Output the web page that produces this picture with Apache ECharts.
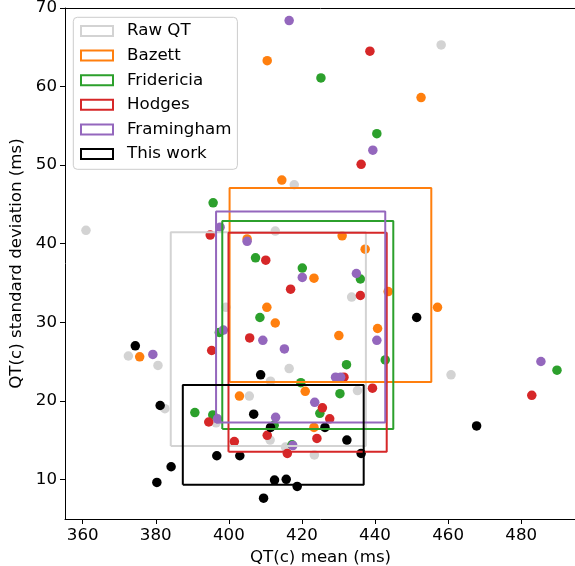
<!DOCTYPE html>
<html>
<head>
<meta charset="utf-8">
<script src="https://cdn.jsdelivr.net/npm/echarts@6/dist/echarts.min.js"></script>
<style>
  html, body { margin: 0; padding: 0; background: #fff; overflow: hidden; }
  #chart { width: 590px; height: 566px; }
</style>
</head>
<body>
<div id="chart"></div>
<script>
// ---------- data ----------
const groups = ['Raw QT', 'Bazett', 'Fridericia', 'Hodges', 'Framingham', 'This work'];

const rawQT = [[360.9,41.7],[458.1,65.3],[417.9,47.5],[412.7,41.6],[433.6,33.2],[399.2,31.9],[372.5,25.7],[380.6,24.5],[382.5,19.0],[405.6,20.6],[416.5,24.1],[411.4,22.5],[396.5,17.2],[411.3,15.0],[415.5,14.1],[423.4,13.1],[435.2,21.3],[460.8,23.3]];
const bazett = [[410.5,63.3],[452.6,58.6],[414.5,48.1],[431.0,41.0],[437.3,39.3],[423.3,35.6],[443.6,33.9],[410.4,31.9],[412.7,29.9],[457.1,31.9],[430.1,28.3],[440.7,29.2],[375.6,25.6],[402.9,20.6],[420.9,21.2],[423.3,16.6],[405.0,40.6]];
const fridericia = [[425.2,61.1],[440.5,54.0],[395.7,45.2],[407.3,38.2],[420.1,36.9],[408.5,30.6],[436.0,35.5],[397.4,28.7],[390.7,18.5],[395.6,18.2],[412.4,16.9],[417.3,14.4],[419.7,22.3],[432.2,24.6],[430.4,20.9],[424.9,18.4],[442.8,25.2],[489.8,23.9]];
const hodges = [[438.6,64.5],[436.2,50.1],[394.9,41.1],[410.1,37.9],[416.9,34.2],[436.0,33.4],[405.7,28.0],[395.3,26.4],[394.5,17.3],[401.5,14.8],[410.5,15.6],[416.0,13.3],[425.6,19.1],[427.6,17.7],[424.1,15.2],[439.3,21.6],[482.9,20.7],[431.5,23.0]];
const framingham = [[416.5,68.4],[439.4,51.9],[397.6,42.1],[405.0,40.3],[420.1,35.7],[434.9,36.2],[398.5,29.0],[409.3,27.7],[415.2,26.6],[379.2,25.9],[396.9,17.7],[412.8,17.9],[417.5,14.3],[429.2,23.0],[430.6,23.0],[423.5,19.8],[440.5,27.7],[485.4,25.0]];
const thisWork = [[374.4,27.0],[381.2,19.4],[384.2,11.6],[380.3,9.6],[396.7,13.0],[403.0,13.0],[408.7,23.3],[406.8,18.3],[411.4,16.6],[412.5,9.9],[415.7,10.0],[418.7,9.1],[409.5,7.6],[426.3,16.6],[432.3,15.0],[436.2,13.3],[451.4,30.6],[467.8,16.8]];

// mean +/- SD boxes per group (same order as groups)
const boxLeft   = [384.1, 400.2, 398.2, 399.9, 396.5, 387.4];
const boxRight  = [437.5, 455.4, 445.0, 443.2, 442.8, 436.9];
const boxBottom = [14.24, 22.4, 16.4, 13.5, 17.25, 9.3];
const boxTop    = [41.46, 47.1, 42.9, 41.4, 44.1, 22.0];

const xTicks = [360, 380, 400, 420, 440, 460, 480];
const yTicks = [10, 20, 30, 40, 50, 60, 70];
const xRange = [355.16, 495.0];
const yRange = [4.95, 70];

// ---------- style ----------
const colors = ['#d3d3d3', '#ff7f0e', '#2ca02c', '#d62728', '#9467bd', '#000000'];
const pointSets = [rawQT, bazett, fridericia, hodges, framingham, thisWork];
const FONT = 'DejaVu Sans';
const FS = 16.67;

const series = [];
groups.forEach((g, i) => {
  series.push({
    name: g, type: 'scatter', xAxisIndex: 0, yAxisIndex: 0,
    data: pointSets[i], symbolSize: 9.5, z: 2,
    itemStyle: { color: colors[i], opacity: 1 },
    emphasis: { disabled: true }
  });
});
groups.forEach((g, i) => {
  const rect = [
    [boxLeft[i], boxBottom[i]], [boxRight[i], boxBottom[i]],
    [boxRight[i], boxTop[i]], [boxLeft[i], boxTop[i]], [boxLeft[i], boxBottom[i]]
  ];
  series.push({
    name: g, type: 'line', xAxisIndex: 0, yAxisIndex: 0,
    data: rect, showSymbol: false, symbol: 'none', z: 3 + i * 0.01,
    lineStyle: { color: colors[i], width: 2 },
    itemStyle: { color: colors[i] },
    emphasis: { disabled: true }, silent: true
  });
});

const chart = echarts.init(document.getElementById('chart'), null, { renderer: 'canvas' });
chart.setOption({
  animation: false,
  backgroundColor: '#fff',
  textStyle: { fontFamily: FONT },
  grid: { left: 65, top: 8, right: 14, bottom: 47, containLabel: false, outerBoundsMode: 'none' },
  legend: {
    orient: 'vertical', left: 73.3, top: 17.3,
    padding: [5.2, 6.0, 6.8, 6.7],
    backgroundColor: 'rgba(255,255,255,0.8)', borderColor: '#cccccc', borderWidth: 1, borderRadius: 4,
    itemWidth: 32, itemHeight: 10, itemGap: 7.6,
    selectedMode: false,
    textStyle: { fontFamily: FONT, fontSize: FS, color: '#000', lineHeight: 16.7, padding: [0, 0, 0, 9.0] },
    data: groups.map((g, i) => ({
      name: g, icon: 'rect',
      itemStyle: { color: 'rgba(0,0,0,0)', borderColor: colors[i], borderWidth: 2 }
    }))
  },
  xAxis: [{
    type: 'value', min: xRange[0], max: xRange[1], position: 'bottom',
    name: 'QT(c) mean (ms)', nameLocation: 'middle', nameGap: 26,
    nameTextStyle: { fontFamily: FONT, fontSize: FS, color: '#000' },
    axisLine: { show: true, lineStyle: { color: '#000', width: 1 } },
    axisTick: { show: true, inside: false, length: 5, lineStyle: { color: '#000', width: 1 }, customValues: xTicks },
    axisLabel: { show: true, margin: 8, fontFamily: FONT, fontSize: FS, color: '#000', customValues: xTicks },
    splitLine: { show: false }
  }, {
    type: 'value', min: xRange[0], max: xRange[1], position: 'top',
    axisLine: { show: true, onZero: false, lineStyle: { color: '#000', width: 1 } },
    axisTick: { show: false }, axisLabel: { show: false }, splitLine: { show: false }
  }],
  yAxis: [{
    type: 'value', min: yRange[0], max: yRange[1], position: 'left',
    name: 'QT(c) standard deviation (ms)', nameLocation: 'middle', nameGap: 31, nameRotate: 90,
    nameTextStyle: { fontFamily: FONT, fontSize: FS, color: '#000' },
    axisLine: { show: true, onZero: false, lineStyle: { color: '#000', width: 1 } },
    axisTick: { show: true, inside: false, length: 5, lineStyle: { color: '#000', width: 1 }, customValues: yTicks },
    axisLabel: { show: true, margin: 8, fontFamily: FONT, fontSize: FS, color: '#000', customValues: yTicks },
    splitLine: { show: false }
  }],
  series: series
});
</script>
</body>
</html>
